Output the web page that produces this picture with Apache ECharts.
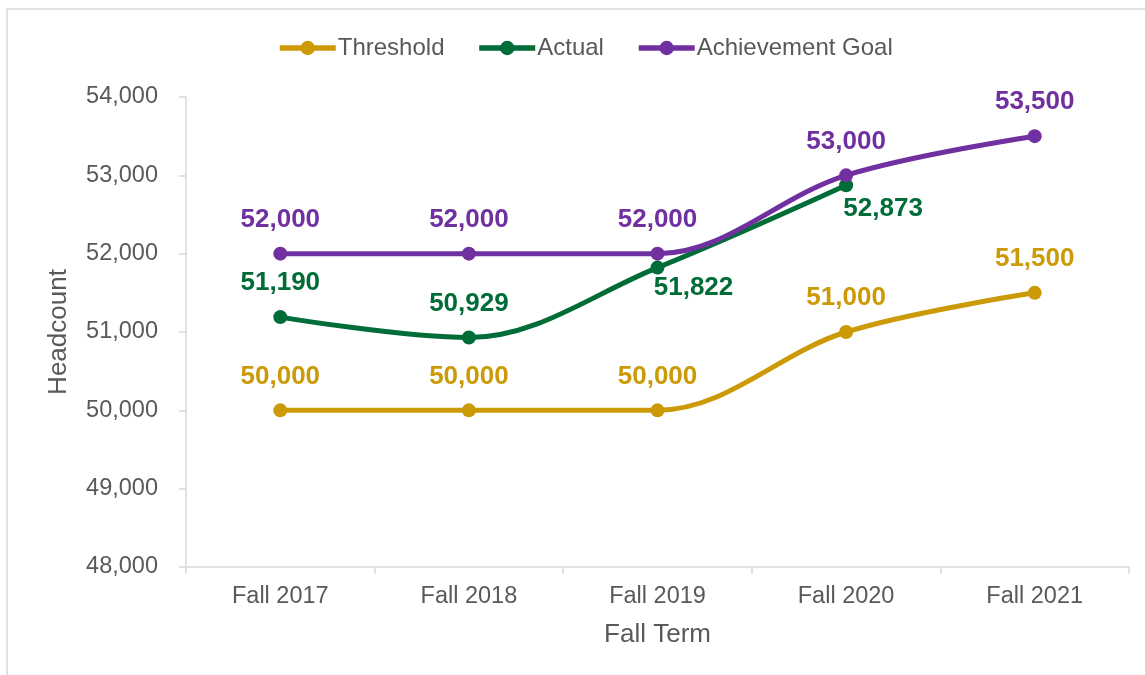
<!DOCTYPE html>
<html><head><meta charset="utf-8">
<script src="https://cdn.jsdelivr.net/npm/echarts@6/dist/echarts.min.js"></script>
<style>html,body{margin:0;padding:0;background:#fff}#c{width:1145px;height:675px}</style>
</head><body><div id="c"></div>
<script>
const categories = ['Fall 2017', 'Fall 2018', 'Fall 2019', 'Fall 2020', 'Fall 2021'];
const threshold = [50000, 50000, 50000, 51000, 51500];
const actual = [51190, 50929, 51822, 52873, null];
const goal = [52000, 52000, 52000, 53000, 53500];
const yTicks = [48000, 49000, 50000, 51000, 52000, 53000, 54000];

const fmt = v => (v == null ? '' : Number(v).toLocaleString('en-US'));
const FONT = 'Liberation Sans, Arial, sans-serif';

function labelCfg(color, extra) {
  return Object.assign({
    show: true, position: 'top', distance: 14, color: color,
    fontFamily: FONT, fontWeight: 'bold', fontSize: 26,
    formatter: p => fmt(p.value)
  }, extra || {});
}

const chart = echarts.init(document.getElementById('c'));
const colT = '#CC9A06', colA = '#006C38', colG = '#7030A0';
chart.setOption({
  animation: false,
  textStyle: { fontFamily: FONT },
  graphic: [{
    type: 'rect', shape: { x: 7, y: 9, width: 1200, height: 700 },
    style: { fill: 'none', stroke: '#d9d9d9', lineWidth: 1.5 }, silent: true
  }],
  legend: {
    top: 31, left: 272, itemWidth: 56, itemHeight: 18, itemGap: 32,
    lineStyle: { width: 5.5 },
    textStyle: { fontSize: 24, color: '#595959', fontFamily: FONT, padding: [0, 0, 0, -3] },
    data: ['Threshold', 'Actual', 'Achievement Goal']
  },
  grid: { left: 186, right: 16, top: 97, bottom: 108, containLabel: false },
  xAxis: {
    type: 'category', data: categories, boundaryGap: true,
    name: 'Fall Term', nameLocation: 'middle', nameGap: 55,
    nameTextStyle: { fontSize: 26, color: '#595959', fontFamily: FONT },
    axisLine: { lineStyle: { color: '#d9d9d9', width: 1.5 } },
    axisTick: { show: true, length: 7, lineStyle: { color: '#d9d9d9', width: 1.5 } },
    axisLabel: { fontSize: 23.5, color: '#595959', margin: 18, fontFamily: FONT },
    splitLine: { show: false }
  },
  yAxis: {
    type: 'value', min: yTicks[0], max: yTicks[yTicks.length - 1], interval: 1000,
    name: 'Headcount', nameLocation: 'middle', nameGap: 114, nameRotate: 90,
    nameTextStyle: { fontSize: 26, color: '#595959', fontFamily: FONT },
    axisLine: { show: true, lineStyle: { color: '#d9d9d9', width: 1.5 } },
    axisTick: { show: true, length: 7, lineStyle: { color: '#d9d9d9', width: 1.5 } },
    axisLabel: { fontSize: 23.5, color: '#595959', margin: 28, fontFamily: FONT, formatter: v => fmt(v) },
    splitLine: { show: false }
  },
  series: [
    {
      name: 'Threshold', type: 'line', data: threshold, smooth: 0.35,
      symbol: 'circle', symbolSize: 14, color: colT,
      lineStyle: { width: 5, color: colT }, itemStyle: { color: colT },
      label: labelCfg(colT)
    },
    {
      name: 'Actual', type: 'line', smooth: 0.35,
      symbol: 'circle', symbolSize: 14, color: colA,
      lineStyle: { width: 5, color: colA }, itemStyle: { color: colA },
      data: actual.map((v, i) => {
        if (v == null) return null;
        if (i === 2) return { value: v, label: { position: 'bottom', distance: 4, offset: [36, -4] } };
        if (i === 3) return { value: v, label: { position: 'bottom', distance: 4, offset: [37, 0] } };
        return v;
      }),
      label: labelCfg(colA)
    },
    {
      name: 'Achievement Goal', type: 'line', data: goal, smooth: 0.35,
      symbol: 'circle', symbolSize: 14, color: colG,
      lineStyle: { width: 5, color: colG }, itemStyle: { color: colG },
      label: labelCfg(colG)
    }
  ]
});
</script></body></html>
